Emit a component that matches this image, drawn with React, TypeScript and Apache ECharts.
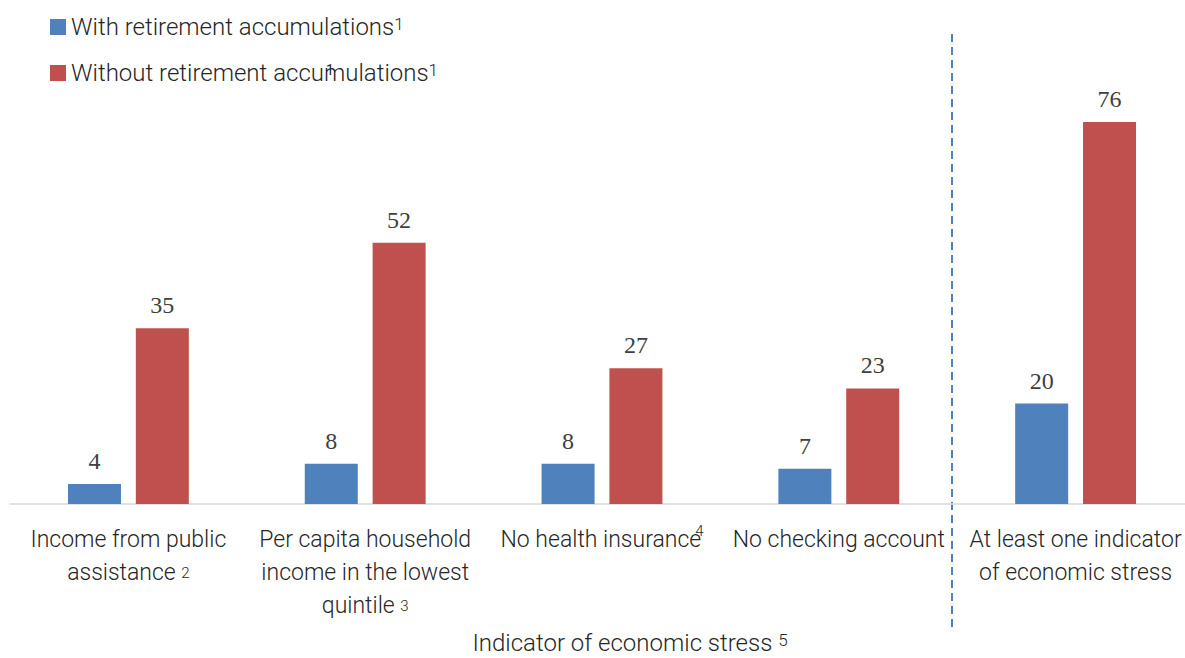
import React, { useEffect, useRef } from "react";
import * as echarts from "echarts";

const categories = [
  "Income from public\nassistance",
  "Per capita household\nincome in the lowest\nquintile",
  "No health insurance",
  "No checking account",
  "At least one indicator\nof economic stress",
];
const footnotes = [" {s|2}", " {s|3}", "{t|4}", "", ""];
const seriesNames = ["With retirement accumulations", "Without retirement accumulations"];
const withRetirement = [4, 8, 8, 7, 20];
const withoutRetirement = [35, 52, 27, 23, 76];
const axisTitle = "Indicator of economic stress";
const axisTitleNote = "5";
const legendNote = "1";

const SANS = "Roboto, 'Liberation Sans', sans-serif";
const SERIF = "'Liberation Serif', 'DejaVu Serif', serif";

export default function App() {
  const ref = useRef<HTMLDivElement>(null);
  useEffect(() => {
    if (!ref.current) return;
    const chart = echarts.init(ref.current, undefined, { renderer: "svg" });
    const labelFor = (v: string) => {
      const i = categories.indexOf(v);
      return v + (footnotes[i] || "");
    };
    chart.setOption({
      animation: false,
      color: ["#4F81BD", "#C0504D"],
      legend: {
        orient: "vertical",
        left: 45,
        top: 10,
        icon: "rect",
        itemWidth: 16,
        itemHeight: 16,
        itemGap: 22,
        data: seriesNames,
        formatter: (n: string) => `${n}{s|${legendNote}}`,
        textStyle: {
          fontFamily: SANS,
          fontWeight: 300,
          fontSize: 24,
          color: "#262626",
          rich: {
            s: { fontFamily: SANS, fontWeight: 300, fontSize: 17, verticalAlign: "top", color: "#262626" },
          },
        },
      },
      grid: { left: 10, width: 1184, top: 102, height: 402, containLabel: false, outerBoundsMode: "none" },
      xAxis: {
        type: "category",
        data: categories,
        axisTick: { show: false },
        axisLine: { lineStyle: { color: "#D9D9D9", width: 1.5 } },
        axisLabel: {
          interval: 0,
          margin: 19,
          fontFamily: SANS,
          fontWeight: 300,
          fontSize: 23,
          lineHeight: 33,
          color: "#262626",
          formatter: labelFor,
          rich: {
            s: { fontFamily: SANS, fontSize: 15, color: "#262626", verticalAlign: "middle", lineHeight: 30 },
            t: { fontFamily: SANS, fontSize: 15, color: "#262626", verticalAlign: "top", lineHeight: 33, padding: [0, 0, 0, -6] },
          },
        },
        name: `${axisTitle} {s|${axisTitleNote}}`,
        nameLocation: "middle",
        nameGap: 127,
        nameTextStyle: {
          fontFamily: SANS,
          fontWeight: 300,
          fontSize: 24,
          color: "#262626",
          padding: [0, 0, 0, 56],
          rich: {
            s: { fontFamily: SANS, fontSize: 17, color: "#262626", verticalAlign: "top" },
          },
        },
      },
      yAxis: {
        type: "value",
        min: 0,
        max: 80,
        show: false,
        splitLine: { show: false },
      },
      series: [
        {
          name: seriesNames[0],
          type: "bar",
          data: withRetirement,
          barWidth: 53,
          barGap: "28%",
          label: { show: true, position: "top", distance: 11, fontFamily: SERIF, fontSize: 24, color: "#404040" },
        },
        {
          name: seriesNames[1],
          type: "bar",
          data: withoutRetirement,
          barWidth: 53,
          barGap: "28%",
          label: { show: true, position: "top", distance: 11, fontFamily: SERIF, fontSize: 24, color: "#404040" },
        },
      ],
    });
    const c4 = chart.convertToPixel({ xAxisIndex: 0 }, categories[3]) as number;
    const c5 = chart.convertToPixel({ xAxisIndex: 0 }, categories[4]) as number;
    const sepX = Math.round((c4 + c5) / 2 - 5);
    chart.setOption({
      graphic: [
        {
          type: "line",
          shape: { x1: sepX, y1: 34, x2: sepX, y2: 632 },
          style: { stroke: "#4F81BD", lineWidth: 2, lineDash: [8, 5] },
        },
        {
          type: "text",
          x: 326,
          y: 63,
          style: { text: "1", fontFamily: SANS, fontSize: 14, fill: "#262626" },
        },
      ],
    });
    return () => chart.dispose();
  }, []);
  return (
    <div
      ref={ref}
      style={{ position: "absolute", left: 0, top: 0, width: 1185, height: 658, background: "#fff" }}
    />
  );
}
